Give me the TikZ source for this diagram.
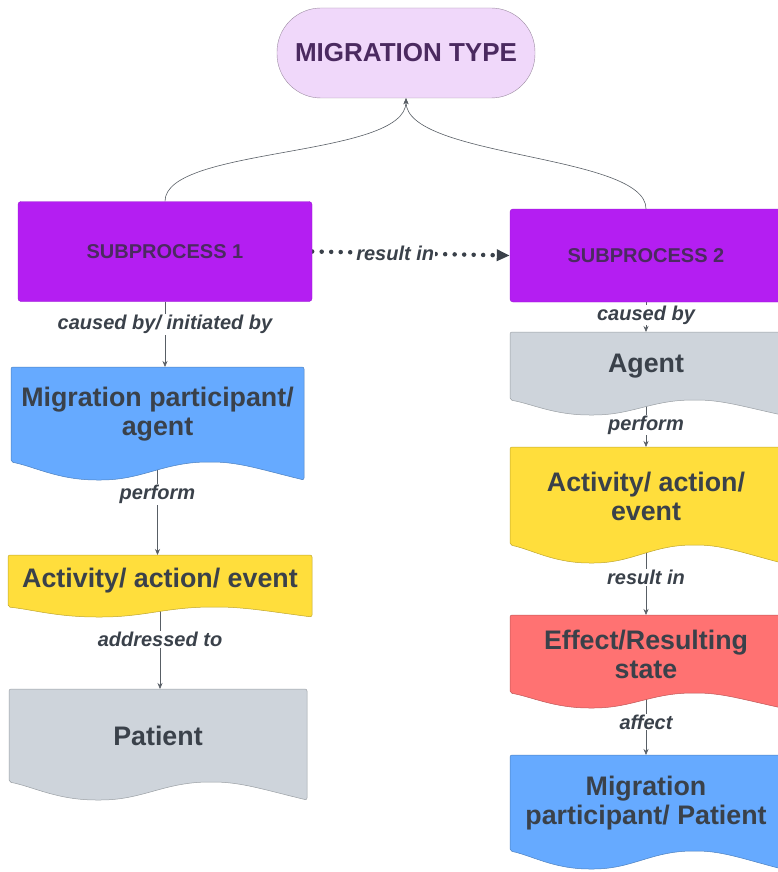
\documentclass[tikz,border=0pt]{standalone}
\usepackage{fontspec}
\setmainfont{Liberation Sans}
\usepackage{tikz}
\usetikzlibrary{arrows.meta,backgrounds,calc}

\definecolor{ink}{HTML}{3A414A}
\definecolor{subink}{HTML}{4B2A60}
\definecolor{typefill}{HTML}{F0D8FA}
\definecolor{subfill}{HTML}{B41EF2}
\definecolor{bluefill}{HTML}{66AAFF}
\definecolor{yellowfill}{HTML}{FFDE3C}
\definecolor{grayfill}{HTML}{CED4DB}
\definecolor{redfill}{HTML}{FF7272}

% document shape with wavy bottom: node, colour, wave depth
\newcommand{\docfill}[3]{%
  \filldraw[fill=#2, draw=#2!75!black, line width=0.5pt, rounded corners=2pt]
    let \p1=(#1.north west), \p2=(#1.south east), \n1={\x2-\x1} in
    (\x1,\y1) -- (\x2,\y1) -- (\x2,\y2-#3)
    .. controls (\x1+0.86*\n1,\y2-0.45*#3) and (\x1+0.78*\n1,\y2) .. (\x1+0.68*\n1,\y2)
    .. controls (\x1+0.52*\n1,\y2) and (\x1+0.45*\n1,\y2-#3) .. (\x1+0.3*\n1,\y2-#3)
    .. controls (\x1+0.16*\n1,\y2-#3) and (\x1+0.08*\n1,\y2-0.25*#3) .. (\x1,\y2) -- cycle;}

\begin{document}
\begin{tikzpicture}[x=1pt,y=-1pt,
    con/.style={draw=ink!85, line width=0.6pt, -{Stealth[length=6pt,width=5pt]}},
    lab/.style={fill=white, inner sep=1pt, text=ink, font=\fontsize{20}{22}\selectfont\bfseries\itshape},
    doc/.style={rectangle, outer sep=0pt, inner sep=0pt, align=center, text=ink, font=\fontsize{26.8}{29}\selectfont\bfseries},
    sub/.style={rectangle, rounded corners=3pt, fill=subfill, draw=subfill!85!black, line width=0.4pt, text=subink, font=\fontsize{20}{22}\selectfont\bfseries}]
\useasboundingbox (0,0) rectangle (778,872);

\node[rectangle, rounded corners=44pt, fill=typefill, draw=typefill!65!black, line width=0.4pt, minimum width=258pt, minimum height=90pt, text=subink, font=\fontsize{26}{29}\selectfont\bfseries] (mtype) at (406,53) {MIGRATION TYPE};

\node[sub, minimum width=294pt, minimum height=100pt] (sub1) at (165,251.5) {SUBPROCESS 1};
\node[sub, minimum width=272pt, minimum height=93pt] (sub2) at (646,255.5) {SUBPROCESS 2};

\node[doc, minimum width=293pt, minimum height=95pt] (partl) at (157.5,414.5) {Migration participant/\\agent};
\node[doc, minimum width=304pt, minimum height=52pt] (actl) at (160,581) {Activity/ action/ event};
\node[doc, minimum width=298pt, minimum height=93pt] (patl) at (158,735.5) {Patient};

\node[doc, minimum width=272pt, minimum height=68pt] (agentr) at (646,366) {Agent};
\node[doc, minimum width=272pt, minimum height=98pt] (actr) at (646,496) {Activity/ action/\\event};
\node[doc, minimum width=272pt, minimum height=78pt] (effr) at (646,654) {Effect/Resulting\\state};
\node[doc, minimum width=272pt, minimum height=96pt] (partr) at (646,803) {Migration\\participant/ Patient};

\begin{scope}[on background layer]
\draw[con] (sub1.north) .. controls +(0,-55) and +(0,60) .. (mtype.south);
\draw[con] (sub2.north) .. controls +(0,-55) and +(0,60) .. (mtype.south);
\draw[draw=ink, line width=4.5pt, dash pattern=on 0pt off 9.5pt, line cap=round, -{Triangle[length=13pt,width=11pt]}] (sub1.east) -- node[lab, pos=0.42] {result in} (sub2.west);

\draw[con] (sub1.south) -- node[lab, pos=0.35] {caused by/ initiated by} (sub1.south |- partl.north);
\draw[con] (partl.south) -- node[lab, pos=0.35] {perform} (partl.south |- actl.north);
\draw[con] (actl.south) -- node[lab, pos=0.4] {addressed to} (actl.south |- patl.north);

\draw[con] (sub2.south) -- node[lab, pos=0.43] {caused by} (agentr.north);
\draw[con] (agentr.south) -- node[lab, pos=0.53] {perform} (actr.north);
\draw[con] (actr.south) -- node[lab, pos=0.46] {result in} (effr.north);
\draw[con] (effr.south) -- node[lab, pos=0.47] {affect} (partr.north);

\docfill{partl}{bluefill}{18pt}
\docfill{actl}{yellowfill}{10pt}
\docfill{patl}{grayfill}{18pt}
\docfill{agentr}{grayfill}{15pt}
\docfill{actr}{yellowfill}{18pt}
\docfill{effr}{redfill}{15pt}
\docfill{partr}{bluefill}{18pt}
\end{scope}
\end{tikzpicture}
\end{document}
